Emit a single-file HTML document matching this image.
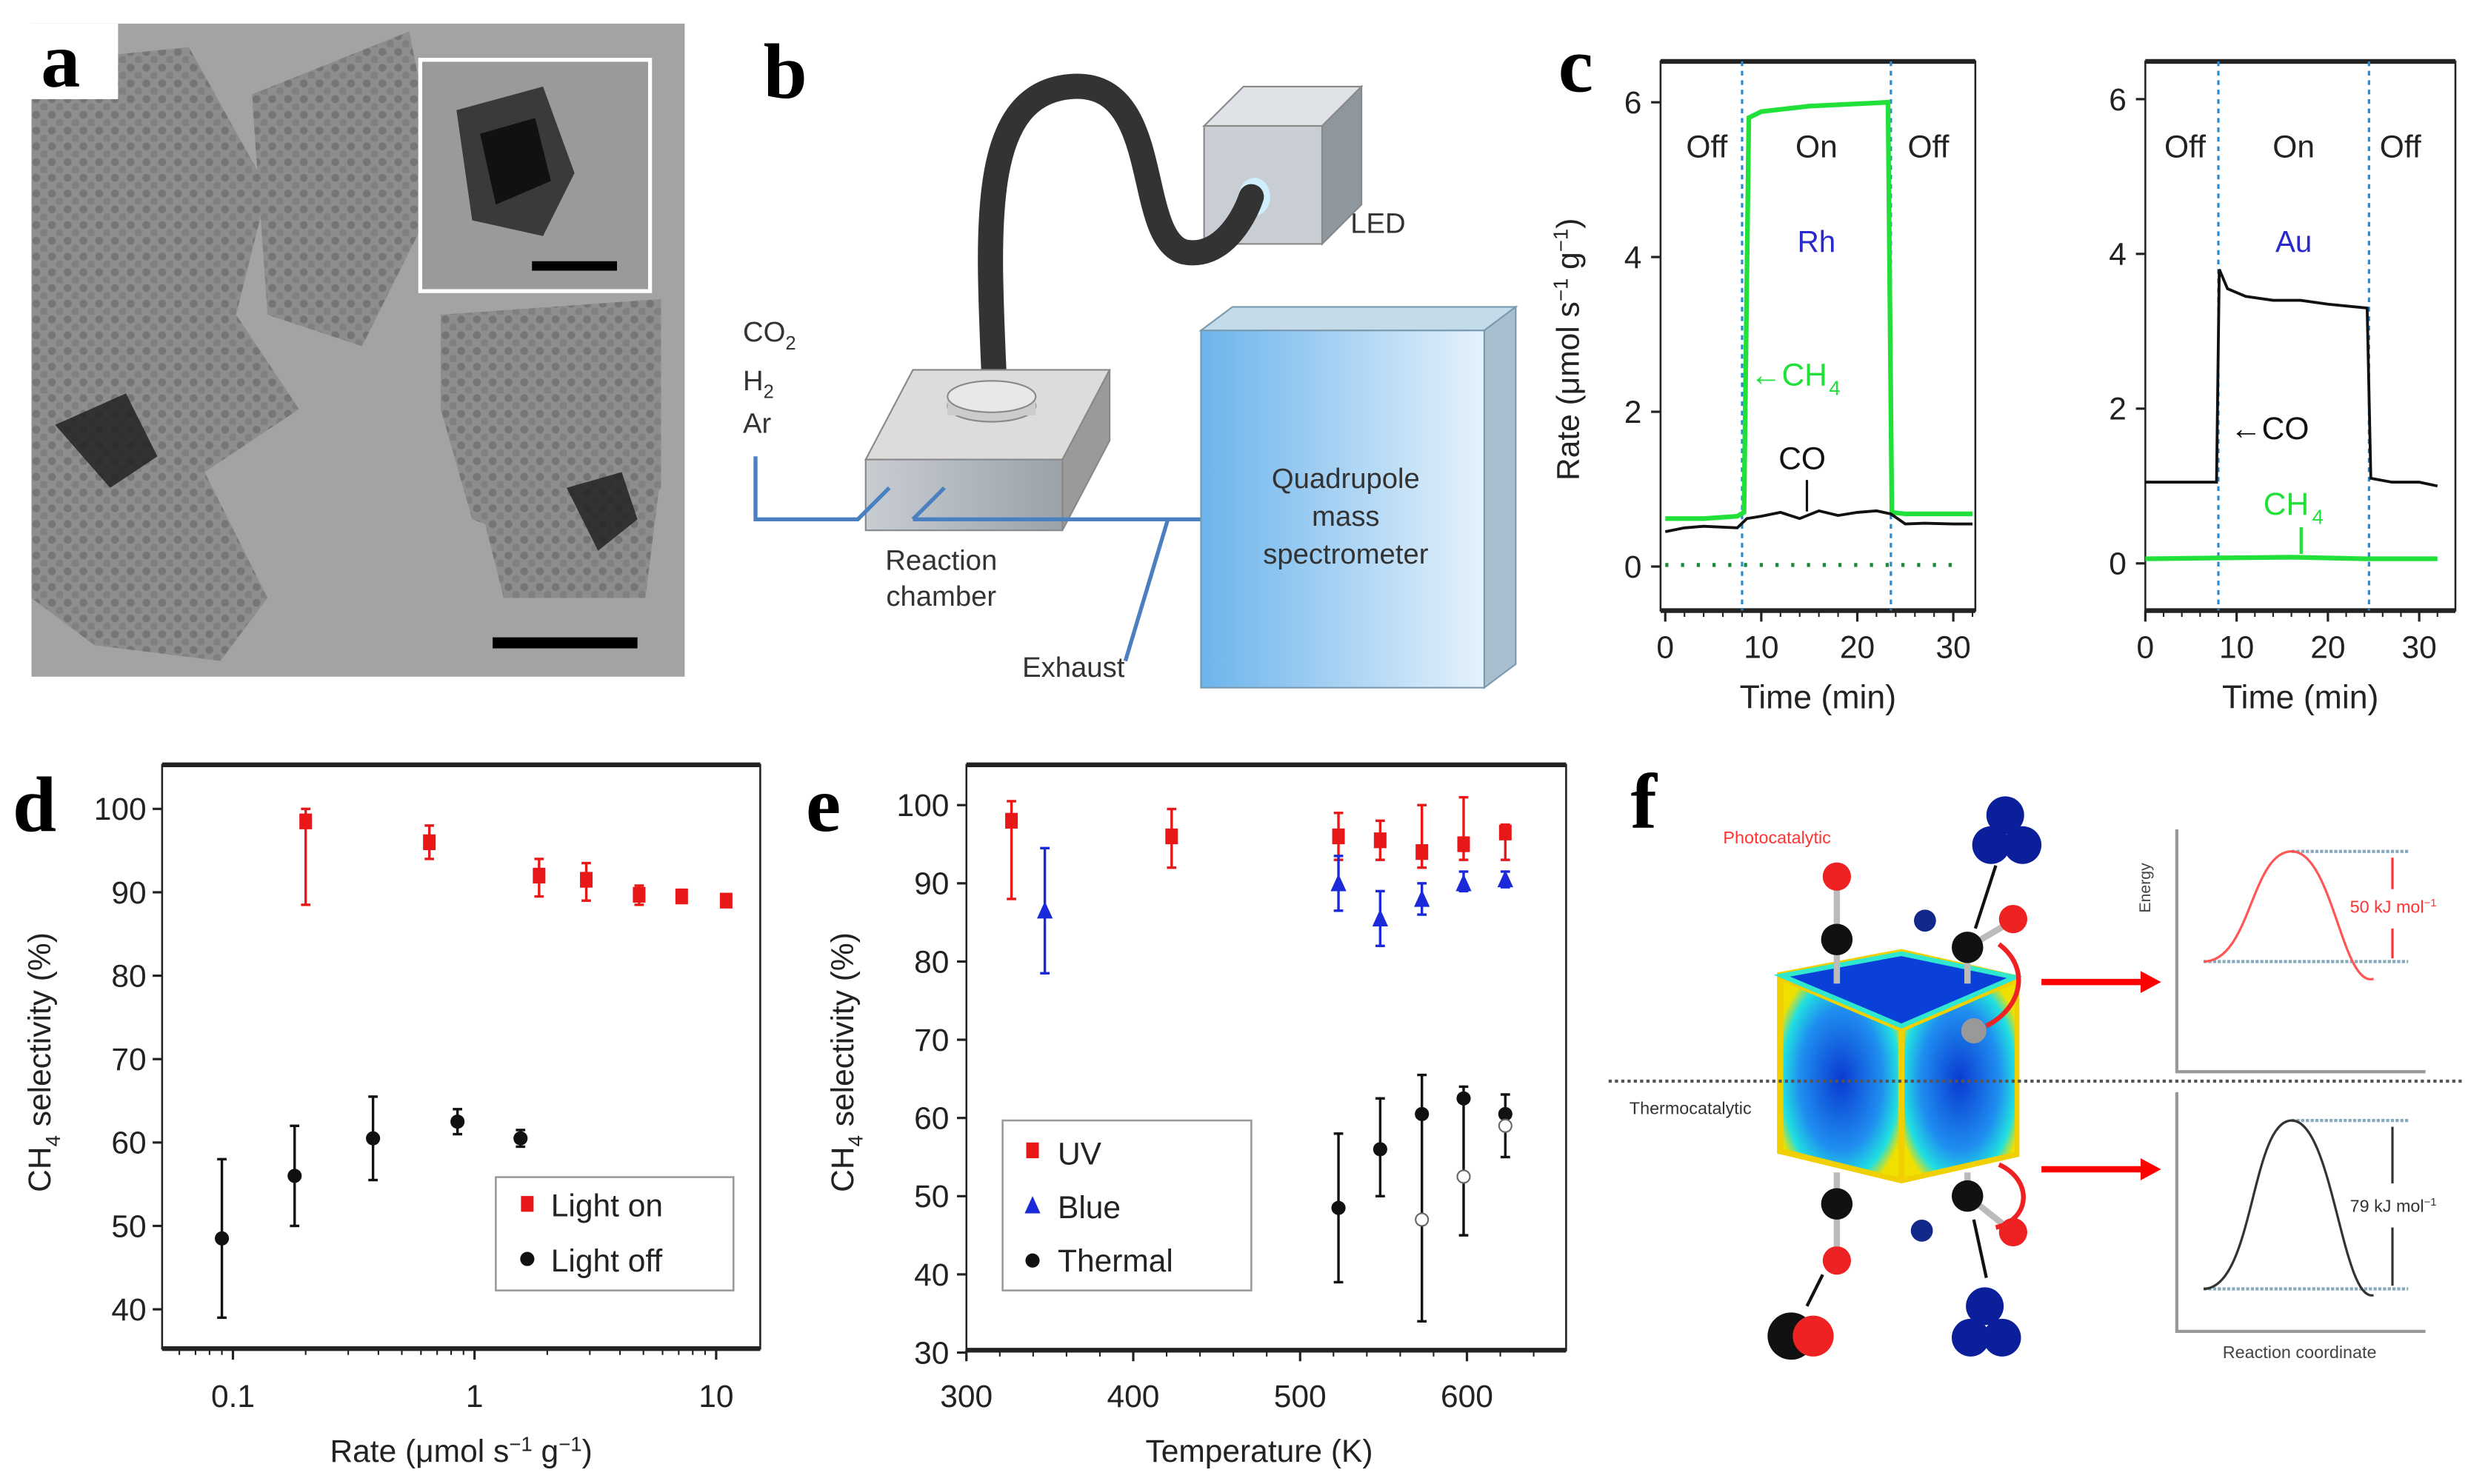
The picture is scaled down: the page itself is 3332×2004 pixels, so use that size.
<!DOCTYPE html>
<html><head><meta charset="utf-8"><style>
html,body{margin:0;padding:0;background:#fff;width:3332px;height:2004px;overflow:hidden}
svg{display:block}
text{font-family:"Liberation Sans",sans-serif}
.lbl{font-family:"Liberation Serif",serif;font-weight:bold;font-size:50px}
</style></head><body>
<svg id="fig" width="3332" height="2004" viewBox="0 0 1568 943" preserveAspectRatio="none" xmlns="http://www.w3.org/2000/svg">
<defs>
<linearGradient id="qg" x1="0" x2="1"><stop offset="0" stop-color="#6cb4ec"/><stop offset="1" stop-color="#e6f2fb"/></linearGradient>
<linearGradient id="bx" x1="0" x2="1"><stop offset="0" stop-color="#c8cdd2"/><stop offset="1" stop-color="#9aa2aa"/></linearGradient>
<radialGradient id="cube" cx="0.5" cy="0.5" r="0.6"><stop offset="0" stop-color="#0a3ad0"/><stop offset="0.6" stop-color="#1f8ef0"/><stop offset="0.85" stop-color="#20e0e0"/><stop offset="1" stop-color="#f0e000"/></radialGradient>
<pattern id="tem" width="10" height="10" patternUnits="userSpaceOnUse"><rect width="10" height="10" fill="#8a8a8a"/><circle cx="3" cy="3" r="2.5" fill="#6e6e6e"/><circle cx="8" cy="8" r="2.5" fill="#7a7a7a"/></pattern>
</defs>

<!-- Panel a -->
<g>
<rect x="20" y="15" width="415" height="415" fill="#a3a3a3"/>
<g fill="url(#tem)" opacity="0.85">
<path d="M20 40 L120 30 L170 120 L150 200 L190 260 L130 300 L170 380 L140 420 L60 410 L20 380Z"/>
<path d="M160 60 L260 20 L280 120 L230 220 L170 200Z"/>
<path d="M280 200 L420 190 L420 310 L380 360 L300 330 L280 260Z"/>
<path d="M300 300 L420 300 L410 380 L320 380Z"/>
</g>
<polygon points="35,270 80,250 100,290 70,310" fill="#222" opacity="0.85"/>
<polygon points="360,310 395,300 405,330 380,350" fill="#222" opacity="0.85"/>
<rect x="267" y="38" width="146" height="147" fill="#9a9a9a" stroke="#fff" stroke-width="2.5"/>
<polygon points="290,70 345,55 365,110 345,150 300,140" fill="#3a3a3a"/>
<polygon points="305,85 340,75 350,115 315,130" fill="#111"/>
<rect x="338" y="166" width="54" height="6" fill="#000"/>
<rect x="313" y="405" width="92" height="7" fill="#000"/>
<rect x="20" y="15" width="55" height="48" fill="#fff"/>
<text class="lbl" x="26" y="55">a</text>
</g>

<!-- Panel b -->
<g>
<text class="lbl" x="485" y="62">b</text>
<polygon points="765,80 790,55 865,55 840,80" fill="#dfe3e8" stroke="#888"/>
<polygon points="840,80 865,55 865,130 840,155" fill="#8e969e" stroke="#888"/>
<rect x="765" y="80" width="75" height="75" fill="#c9ced4" stroke="#888"/>
<ellipse cx="797" cy="125" rx="10" ry="12" fill="#cfefff"/>
<path d="M632 250 C628 150 620 60 680 55 C740 50 720 150 752 160 C775 165 790 140 795 125" fill="none" stroke="#333" stroke-width="16" stroke-linecap="round"/>
<text x="858" y="148" font-size="18" fill="#333">LED</text>
<polygon points="550,292 580,235 705,235 675,292" fill="#dcdcdc" stroke="#888"/>
<polygon points="675,292 705,235 705,280 675,337" fill="#9a9a9a" stroke="#888"/>
<rect x="550" y="292" width="125" height="45" fill="url(#bx)" stroke="#888"/>
<ellipse cx="630" cy="258" rx="28" ry="10" fill="#ccc" stroke="#888"/>
<rect x="602" y="252" width="56" height="12" fill="#ccc"/>
<ellipse cx="630" cy="252" rx="28" ry="10" fill="#e8e8e8" stroke="#888"/>
<path d="M480 290 L480 330 L545 330 L565 310 M580 330 L600 310 M580 330 L765 330 M742 330 L715 420" fill="none" stroke="#4a7fc0" stroke-width="2.5"/>
<polygon points="763,210 783,195 963,195 943,210" fill="#c4dbea" stroke="#7a9ab0"/>
<polygon points="943,210 963,195 963,422 943,437" fill="#a9bfcf" stroke="#7a9ab0"/>
<rect x="763" y="210" width="180" height="227" fill="url(#qg)" stroke="#7a9ab0"/>
<text x="855" y="310" font-size="18" fill="#333" text-anchor="middle">Quadrupole</text>
<text x="855" y="334" font-size="18" fill="#333" text-anchor="middle">mass</text>
<text x="855" y="358" font-size="18" fill="#333" text-anchor="middle">spectrometer</text>
<text x="472" y="217" font-size="18" fill="#333">CO<tspan font-size="12" dy="5">2</tspan></text>
<text x="472" y="248" font-size="18" fill="#333">H<tspan font-size="12" dy="5">2</tspan></text>
<text x="472" y="275" font-size="18" fill="#333">Ar</text>
<text x="598" y="362" font-size="18" fill="#333" text-anchor="middle">Reaction</text>
<text x="598" y="385" font-size="18" fill="#333" text-anchor="middle">chamber</text>
<text x="682" y="430" font-size="18" fill="#333" text-anchor="middle">Exhaust</text>
</g>

<g id="panelC">
<text class="lbl" x="990" y="58">c</text>
<text x="0" y="0" font-size="20" transform="translate(1003,222) rotate(-90)" text-anchor="middle" fill="#222">Rate (μmol s<tspan dy="-7" font-size="13">−1</tspan><tspan dy="7"> g</tspan><tspan dy="-7" font-size="13">−1</tspan><tspan dy="7">)</tspan></text>
</g>
<g id="panelD">
<text class="lbl" x="8" y="528">d</text>
</g>
<g id="panelE">
<text class="lbl" x="512" y="528">e</text>
</g>

<!-- Panel f -->
<g>
<text class="lbl" x="1036" y="526">f</text>
<text x="1129" y="536" font-size="11" fill="#f33" text-anchor="middle">Photocatalytic</text>
<text x="1074" y="708" font-size="11" fill="#333" text-anchor="middle">Thermocatalytic</text>
<g>
<polygon points="1129,618 1208,603 1283,620 1283,735 1208,752 1129,733" fill="#f0d000"/>
<polygon points="1132,620 1208,606 1280,621 1208,652" fill="#0a40d8" stroke="#30e8d0" stroke-width="3"/>
<polygon points="1133,624 1206,655 1206,748 1133,730" fill="url(#cube)"/>
<polygon points="1210,655 1280,625 1280,732 1210,748" fill="url(#cube)"/>
</g>
<line x1="1022" y1="687" x2="1565" y2="687" stroke="#555" stroke-width="2" stroke-dasharray="2,2"/>
<g stroke="#bbb" stroke-width="4"><line x1="1167" y1="560" x2="1167" y2="625"/><line x1="1167" y1="745" x2="1167" y2="800"/><line x1="1250" y1="602" x2="1250" y2="625"/><line x1="1250" y1="745" x2="1250" y2="760"/><line x1="1250" y1="602" x2="1279" y2="585"/><line x1="1250" y1="760" x2="1279" y2="783"/></g>
<circle cx="1167" cy="557" r="9" fill="#e22"/><circle cx="1167" cy="597" r="10" fill="#111"/>
<circle cx="1250" cy="602" r="10" fill="#111"/><circle cx="1223" cy="585" r="7" fill="#12288a"/><circle cx="1279" cy="584" r="9" fill="#e22"/>
<circle cx="1254" cy="655" r="8" fill="#999"/>
<circle cx="1274" cy="518" r="12" fill="#0c1f9a"/><circle cx="1265" cy="537" r="12" fill="#0c1f9a"/><circle cx="1285" cy="537" r="12" fill="#0c1f9a"/>
<circle cx="1167" cy="765" r="10" fill="#111"/><circle cx="1167" cy="801" r="9" fill="#e22"/>
<circle cx="1250" cy="760" r="10" fill="#111"/><circle cx="1221" cy="782" r="7" fill="#12288a"/><circle cx="1279" cy="783" r="9" fill="#e22"/>
<circle cx="1138" cy="849" r="15" fill="#111"/><circle cx="1152" cy="849" r="13" fill="#e22"/>
<circle cx="1261" cy="830" r="12" fill="#0c1f9a"/><circle cx="1252" cy="850" r="12" fill="#0c1f9a"/><circle cx="1272" cy="850" r="12" fill="#0c1f9a"/>
<g stroke="#111" stroke-width="2"><line x1="1255" y1="590" x2="1268" y2="550"/><line x1="1158" y1="810" x2="1148" y2="830"/><line x1="1254" y1="775" x2="1262" y2="812"/></g>
<path d="M1270 600 C1290 615 1285 640 1262 652" fill="none" stroke="#e22" stroke-width="3"/>
<path d="M1270 740 C1292 750 1290 775 1268 780" fill="none" stroke="#e22" stroke-width="3"/>
<g stroke="#f00" stroke-width="4"><line x1="1297" y1="624" x2="1362" y2="624"/><line x1="1297" y1="743" x2="1362" y2="743"/></g>
<polygon points="1360,617 1373,624 1360,631" fill="#f00"/><polygon points="1360,736 1373,743 1360,750" fill="#f00"/>
<path d="M1383 527 L1383 681 L1541 681 M1383 694 L1383 846 L1541 846" fill="none" stroke="#999" stroke-width="2"/>
<text x="0" y="0" font-size="10" fill="#444" transform="translate(1366,580) rotate(-90)">Energy</text>
<text x="1461" y="863" font-size="11" fill="#444" text-anchor="middle">Reaction coordinate</text>
<g stroke="#8ab" stroke-width="2" stroke-dasharray="2,1"><line x1="1400" y1="611" x2="1530" y2="611"/><line x1="1456" y1="541" x2="1530" y2="541"/><line x1="1400" y1="819" x2="1530" y2="819"/><line x1="1456" y1="712" x2="1530" y2="712"/></g>
<path d="M1400 611 C1430 611 1430 541 1456 541 C1482 541 1488 628 1508 622" fill="none" stroke="#f55" stroke-width="1.5"/>
<path d="M1400 819 C1432 819 1430 712 1456 712 C1482 712 1488 828 1508 823" fill="none" stroke="#333" stroke-width="1.5"/>
<text x="1493" y="580" font-size="11" fill="#f33">50 kJ mol<tspan dy="-4" font-size="7">−1</tspan></text>
<text x="1493" y="770" font-size="11" fill="#333">79 kJ mol<tspan dy="-4" font-size="7">−1</tspan></text>
<line x1="1520" y1="545" x2="1520" y2="565" stroke="#f33" stroke-width="1.5"/><line x1="1520" y1="590" x2="1520" y2="609" stroke="#f33" stroke-width="1.5"/>
<line x1="1520" y1="716" x2="1520" y2="752" stroke="#333" stroke-width="1.5"/><line x1="1520" y1="780" x2="1520" y2="817" stroke="#333" stroke-width="1.5"/>
</g>
</svg>
<script>
// ---- panel c data ----
const cRhTime = [0,4,7.5,8.2,8.7,10,15,20,23.2,23.6,25,30,32];
const cRhCH4 = [0.62,0.62,0.65,0.7,5.8,5.88,5.95,5.98,6.0,0.7,0.68,0.68,0.68];
const cRhCOTime = [0,2,4,7.5,8.5,10,12,14,16,18,20,22,23.5,25,27,30,32];
const cRhCO = [0.45,0.5,0.52,0.5,0.62,0.65,0.7,0.62,0.72,0.66,0.7,0.72,0.68,0.55,0.56,0.55,0.55];
const cAuTime = [0,4,7.8,8.1,9,11,14,17,20,24.3,24.7,27,30,32];
const cAuCO = [1.05,1.05,1.05,3.8,3.55,3.45,3.4,3.4,3.35,3.3,1.1,1.05,1.05,1.0];
const cAuCH4Time = [0,8,16,24,32];
const cAuCH4 = [0.06,0.07,0.08,0.06,0.06];
const cTicks = [0,10,20,30];
const cYTicks = [0,2,4,6];
// ---- panel d data ----
const dOnRate = [0.2,0.65,1.85,2.9,4.8,7.2,11];
const dOnSel = [98.5,96,92,91.5,89.7,89.5,89];
const dOnLo = [88.5,94,89.5,89,88.5,88.8,88.5];
const dOnHi = [100,98,94,93.5,90.8,90.3,89.5];
const dOffRate = [0.09,0.18,0.38,0.85,1.55];
const dOffSel = [48.5,56,60.5,62.5,60.5];
const dOffLo = [39,50,55.5,61,59.5];
const dOffHi = [58,62,65.5,64,61.5];
const dYTicks = [40,50,60,70,80,90,100];
const dXTicks = [0.1,1,10];
// ---- panel e data ----
const eUVT = [327,423,523,548,573,598,623];
const eUVSel = [98,96,96,95.5,94,95,96.5];
const eUVLo = [88,92,93,93,92,93,93];
const eUVHi = [100.5,99.5,99,98,100,101,97.5];
const eBlueT = [347,523,548,573,598,623];
const eBlueSel = [86.5,90,85.5,88,90,90.5];
const eBlueLo = [78.5,86.5,82,86,89,89.5];
const eBlueHi = [94.5,93.5,89,90,91.5,91.5];
const eThT = [523,548,573,598,623];
const eThSel = [48.5,56,60.5,62.5,60.5];
const eThLo = [39,50,34,45,55];
const eThHi = [58,62.5,65.5,64,63];
const eOpenT = [573,598,623];
const eOpenSel = [47,52.5,59];
const eYTicks = [30,40,50,60,70,80,90,100];
const eXTicks = [300,400,500,600];

const NS='http://www.w3.org/2000/svg';
function mk(parent,tag,attrs){const e=document.createElementNS(NS,tag);for(const k in attrs)e.setAttribute(k,attrs[k]);parent.appendChild(e);return e;}
function txt(parent,x,y,s,size,fill,anchor){const t=mk(parent,'text',{x:x,y:y,'font-size':size,fill:fill||'#222','text-anchor':anchor||'middle'});t.textContent=s;return t;}

// ---- panel c ----
const gC=document.getElementById('panelC');
function cPlot(x0,x1,xa,xb,yTop,yBot,y0,y6,series,onT,offT,metal){
  const X=v=>xa+(xb-xa)*v/30, Y=v=>y0+(y6-y0)*v/6;
  mk(gC,'rect',{x:x0,y:yTop,width:x1-x0,height:yBot-yTop,fill:'#fff',stroke:'#222','stroke-width':1.2});
  mk(gC,'line',{x1:x0,y1:yTop,x2:x1,y2:yTop,stroke:'#222','stroke-width':3});
  mk(gC,'line',{x1:x0,y1:yBot,x2:x1,y2:yBot,stroke:'#222','stroke-width':3});
  cTicks.forEach(t=>{const l=mk(gC,'line',{x1:X(t),y1:yBot,x2:X(t),y2:yBot+7,stroke:'#222','stroke-width':1.5});
    
    txt(gC,X(t),yBot+30,String(t),20);});
  for(let t=0;t<=32;t+=2)mk(gC,'line',{x1:X(t),y1:yBot,x2:X(t),y2:yBot+4,stroke:'#222'});
  cYTicks.forEach(t=>{mk(gC,'line',{x1:x0,y1:Y(t),x2:x0-6,y2:Y(t),stroke:'#222','stroke-width':1.5});
    txt(gC,x0-12,Y(t)+7,String(t),20,'#222','end');});
  [onT,offT].forEach(t=>{const l=mk(gC,'line',{x1:X(t),y1:yTop,x2:X(t),y2:yBot,stroke:'#2a8ad0','stroke-width':1.5,'stroke-dasharray':'3,3'});
    });
  series.forEach(s=>{const p=mk(gC,'polyline',{points:s.t.map((t,i)=>X(t)+','+Y(s.v[i])).join(' '),fill:'none',stroke:s.c,'stroke-width':s.w,'stroke-dasharray':s.d||'none'});
    });
  txt(gC,X(onT/2)+2,100,'Off',20);txt(gC,X((onT+offT)/2),100,'On',20);txt(gC,X((offT+30)/2)+4,100,'Off',20);
  txt(gC,X((onT+offT)/2),160,metal,19,'#2a2acc');
  txt(gC,(x0+x1)/2,450,'Time (min)',21);
}
cPlot(1055,1255,1058,1241,39,388,360,65,[
 {t:cRhTime,v:cRhCH4,c:'#22e03a',w:3,n:'rh-ch4-line'},
 {t:cRhCOTime,v:cRhCO,c:'#111',w:1.8,n:'rh-co-line'},
 {t:[0,31],v:[0.02,0.02],c:'#1a8a3a',w:2.5,d:'2,8',n:'rh-baseline-dotted'}
],8,23.5,'Rh');
txt(gC,1112,245,'←CH',20,'#22e03a','start');txt(gC,1162,251,'4',13,'#22e03a','start');
txt(gC,1130,298,'CO',20,'#111','start');
mk(gC,'line',{x1:1148,y1:305,x2:1148,y2:325,stroke:'#111','stroke-width':1.5});
cPlot(1363,1560,1363,1537,39,388,358,63,[
 {t:cAuTime,v:cAuCO,c:'#111',w:1.8,n:'au-co-line'},
 {t:cAuCH4Time,v:cAuCH4,c:'#22e03a',w:3,n:'au-ch4-line'}
],8,24.5,'Au');
txt(gC,1417,279,'←CO',20,'#111','start');
txt(gC,1438,327,'CH',20,'#22e03a','start');txt(gC,1469,333,'4',13,'#22e03a','start');
mk(gC,'line',{x1:1462,y1:335,x2:1462,y2:352,stroke:'#22e03a','stroke-width':2});

// ---- panel d ----
const gD=document.getElementById('panelD');
const dX=v=>148+(Math.log10(v)+1)*153.5, dY=v=>514+(100-v)*5.3;
function frame(g,x0,x1,yTop,yBot){mk(g,'rect',{x:x0,y:yTop,width:x1-x0,height:yBot-yTop,fill:'#fff',stroke:'#222','stroke-width':1.2});
 mk(g,'line',{x1:x0,y1:yTop,x2:x1,y2:yTop,stroke:'#222','stroke-width':3});mk(g,'line',{x1:x0,y1:yBot,x2:x1,y2:yBot,stroke:'#222','stroke-width':3});}
frame(gD,103,483,486,857);
dYTicks.forEach(t=>{mk(gD,'line',{x1:103,y1:dY(t),x2:97,y2:dY(t),stroke:'#222','stroke-width':1.5});txt(gD,93,dY(t)+7,String(t),20,'#222','end');});
dXTicks.forEach(t=>{mk(gD,'line',{x1:dX(t),y1:857,x2:dX(t),y2:864,stroke:'#222','stroke-width':1.5});txt(gD,dX(t),894,String(t),20);});
for(let d=-2;d<=1;d++)for(let m=2;m<=9;m++){const v=m*Math.pow(10,d);const x=dX(v);if(x>103&&x<483)mk(gD,'line',{x1:x,y1:857,x2:x,y2:861,stroke:'#222'});}
const dyl=mk(gD,'text',{x:0,y:0,'font-size':20,fill:'#222','text-anchor':'middle',transform:'translate(32,675) rotate(-90)'});dyl.innerHTML='CH<tspan dy="6" font-size="13">4</tspan><tspan dy="-6"> selectivity (%)</tspan>';
const dxl=mk(gD,'text',{x:293,y:929,'font-size':20,fill:'#222','text-anchor':'middle'});dxl.innerHTML='Rate (μmol s<tspan dy="-7" font-size="13">−1</tspan><tspan dy="7"> g</tspan><tspan dy="-7" font-size="13">−1</tspan><tspan dy="7">)</tspan>';
function errpt(g,x,y,lo,hi,c,shape,name){
  const l=mk(g,'line',{x1:x,y1:lo,x2:x,y2:hi,stroke:c,'stroke-width':1.6});
  
  mk(g,'line',{x1:x-3,y1:lo,x2:x+3,y2:lo,stroke:c,'stroke-width':1.6});mk(g,'line',{x1:x-3,y1:hi,x2:x+3,y2:hi,stroke:c,'stroke-width':1.6});
  let m;
  if(shape==='sq')m=mk(g,'rect',{x:x-4,y:y-5,width:8,height:10,fill:c});
  else if(shape==='tri')m=mk(g,'polygon',{points:`${x},${y-6} ${x-5},${y+5} ${x+5},${y+5}`,fill:c});
  else m=mk(g,'circle',{cx:x,cy:y,r:4.5,fill:c});
  
}
dOnRate.forEach((r,i)=>errpt(gD,dX(r),dY(dOnSel[i]),dY(dOnLo[i]),dY(dOnHi[i]),'#e81818','sq','light-on-point'));
dOffRate.forEach((r,i)=>errpt(gD,dX(r),dY(dOffSel[i]),dY(dOffLo[i]),dY(dOffHi[i]),'#111','circ','light-off-point'));
const dl=mk(gD,'rect',{x:315,y:748,width:151,height:72,fill:'#fff',stroke:'#999','stroke-width':1.2});

mk(gD,'rect',{x:331,y:760,width:8,height:10,fill:'#e81818'});txt(gD,350,773,'Light on',20,'#222','start');
mk(gD,'circle',{cx:335,cy:800,r:4.5,fill:'#111'});txt(gD,350,808,'Light off',20,'#222','start');

// ---- panel e ----
const gE=document.getElementById('panelE');
const eX=v=>614+(v-300)*1.06, eY=v=>511.6+(100-v)*4.97;
frame(gE,614,995,486,858);
eYTicks.forEach(t=>{mk(gE,'line',{x1:614,y1:eY(t),x2:608,y2:eY(t),stroke:'#222','stroke-width':1.5});txt(gE,603,eY(t)+7,String(t),20,'#222','end');});
eXTicks.forEach(t=>{mk(gE,'line',{x1:eX(t),y1:858,x2:eX(t),y2:865,stroke:'#222','stroke-width':1.5});txt(gE,eX(t),894,String(t),20);});
for(let t=300;t<=650;t+=20)mk(gE,'line',{x1:eX(t),y1:858,x2:eX(t),y2:862,stroke:'#222'});
const eyl=mk(gE,'text',{x:0,y:0,'font-size':20,fill:'#222','text-anchor':'middle',transform:'translate(542,675) rotate(-90)'});eyl.innerHTML='CH<tspan dy="6" font-size="13">4</tspan><tspan dy="-6"> selectivity (%)</tspan>';
txt(gE,800,929,'Temperature (K)',20);
eUVT.forEach((t,i)=>errpt(gE,eX(t),eY(eUVSel[i]),eY(eUVLo[i]),eY(eUVHi[i]),'#e81818','sq','uv-point'));
eBlueT.forEach((t,i)=>errpt(gE,eX(t),eY(eBlueSel[i]),eY(eBlueLo[i]),eY(eBlueHi[i]),'#1a2ad8','tri','blue-point'));
eThT.forEach((t,i)=>errpt(gE,eX(t),eY(eThSel[i]),eY(eThLo[i]),eY(eThHi[i]),'#111','circ','thermal-point'));
eOpenT.forEach((t,i)=>{const c=mk(gE,'circle',{cx:eX(t),cy:eY(eOpenSel[i]),r:4,fill:'#fff',stroke:'#666'});
 });
const el=mk(gE,'rect',{x:637,y:712,width:158,height:108,fill:'#fff',stroke:'#999','stroke-width':1.2});

mk(gE,'rect',{x:652,y:726,width:8,height:10,fill:'#e81818'});txt(gE,672,740,'UV',20,'#222','start');
mk(gE,'polygon',{points:'656,760 651,771 661,771',fill:'#1a2ad8'});txt(gE,672,774,'Blue',20,'#222','start');
mk(gE,'circle',{cx:656,cy:801,r:4.5,fill:'#111'});txt(gE,672,808,'Thermal',20,'#222','start');
</script>
</body></html>
